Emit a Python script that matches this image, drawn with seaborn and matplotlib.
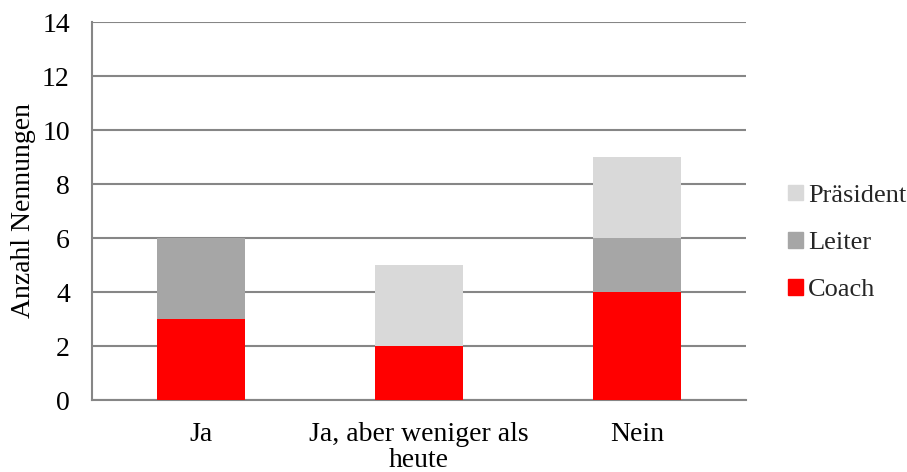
import matplotlib
matplotlib.use("Agg")
import matplotlib.pyplot as plt
import seaborn as sns
import pandas as pd
import numpy as np
from matplotlib.patches import Patch

categories = ["Ja", "Ja, aber weniger als\nheute", "Nein"]
coach = [3, 2, 4]
leiter = [3, 0, 2]
praesident = [0, 3, 3]
series_names = ["Coach", "Leiter", "Präsident"]
colors = {"Coach": "#ff0000", "Leiter": "#a6a6a6", "Präsident": "#d9d9d9"}
y_ticks = [0, 2, 4, 6, 8, 10, 12, 14]

sns.set_style("white")
plt.rcParams["font.family"] = ["Liberation Serif", "DejaVu Serif"]
FS = 20

fig = plt.figure(figsize=(9.07, 4.72), dpi=100)
ax = fig.add_axes([92/907, 72/472, 654/907, 378/472])

c = np.array(coach)
l = np.array(leiter)
p = np.array(praesident)
layers = [("Präsident", c + l + p), ("Leiter", c + l), ("Coach", c)]
for name, vals in layers:
    df = pd.DataFrame({"cat": categories, "val": vals})
    sns.barplot(data=df, x="cat", y="val", color=colors[name], width=0.4,
                saturation=1, ax=ax, zorder=3, linewidth=0)

ax.set_ylim(0, 14)
ax.set_xlim(-0.5, 2.5)
ax.set_yticks(y_ticks)
ax.yaxis.grid(True, color="#868686", linewidth=1.5, zorder=0)
ax.set_axisbelow(True)
for s in ["top", "right"]:
    ax.spines[s].set_visible(False)
for s in ["left", "bottom"]:
    ax.spines[s].set_color("#868686")
    ax.spines[s].set_linewidth(1.5)

ax.set_xticks([0, 1, 2])
ax.set_xticklabels(categories, fontsize=FS, linespacing=1.05, color="black")
ax.tick_params(axis="x", length=0, pad=16)
ax.set_xticks([-0.5, 0.5, 1.5, 2.5], minor=True)
ax.tick_params(axis="x", which="minor", length=6, width=1.5, color="#868686", direction="out")
ax.tick_params(axis="y", length=6, width=1.5, color="#868686", direction="out",
               labelsize=FS, pad=10, labelcolor="black")
ax.set_xlabel("")
ax.set_ylabel("Anzahl Nennungen", fontsize=FS, labelpad=4, color="black")

handles = [Patch(color=colors[n], label=n) for n in ["Präsident", "Leiter", "Coach"]]
leg = fig.legend(handles=handles, loc="center left", bbox_to_anchor=(788/907, 1 - 243/472),
                 bbox_transform=fig.transFigure, frameon=False, fontsize=19,
                 handlelength=0.55, handleheight=0.55, handletextpad=0.2,
                 labelspacing=0.95, borderpad=0, borderaxespad=0)

fig.savefig("out.png", dpi=100)
